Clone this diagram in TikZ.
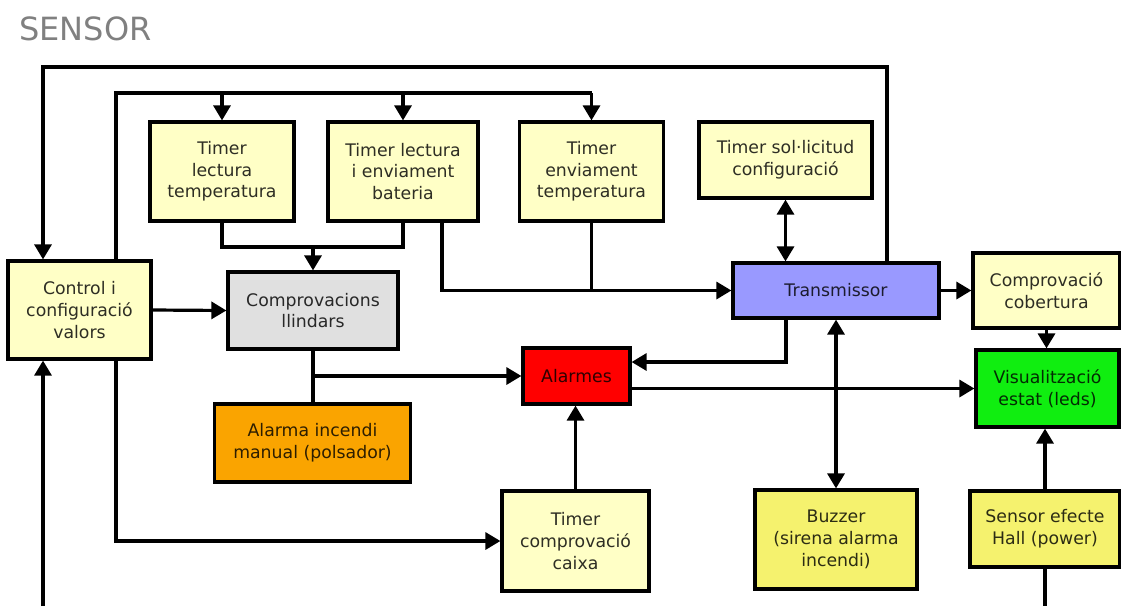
\documentclass[tikz,border=0pt]{standalone}
\usepackage{fontspec}
\setmainfont{DejaVu Sans}
\usetikzlibrary{arrows.meta}

\definecolor{paleyel}{HTML}{FFFFC6}
\definecolor{brightyel}{HTML}{F5F26E}
\definecolor{lightgrey}{HTML}{E0E0E0}
\definecolor{orangebox}{HTML}{FAA400}
\definecolor{redbox}{HTML}{FF0000}
\definecolor{bluebox}{HTML}{9999FF}
\definecolor{greenbox}{HTML}{10EE10}
\definecolor{titlegrey}{HTML}{808080}

\tikzset{
  block/.style={draw=black, line width=3.2pt, align=center, inner sep=0pt,
    font=\fontsize{17.3}{21.7}\selectfont, fill=#1, text=#1!18!black},
  tip/.style={Triangle[length=15pt,width=17pt]},
  arr/.style={line width=3.2pt, -{Triangle[length=15pt,width=17pt]}},
  darr/.style={line width=3.2pt, {Triangle[length=15pt,width=17pt]}-{Triangle[length=15pt,width=17pt]}},
  wire/.style={line width=3.2pt},
}

\begin{document}
\begin{tikzpicture}[x=1pt, y=-1pt]
\useasboundingbox (0,0) rectangle (1121,606);

% title
\node[anchor=base west, inner sep=0pt, text=titlegrey, font=\fontsize{32}{36}\selectfont] (title) at (19,40) {SENSOR};

% blocks
\node[block=paleyel, minimum width=144, minimum height=99] (tlt) at (222,171.5) {Timer\\lectura\\temperatura};
\node[block=paleyel, minimum width=150, minimum height=99] (tlb) at (403,171.5) {Timer lectura\\i enviament\\bateria};
\node[block=paleyel, minimum width=144, minimum height=99] (tet) at (591.5,171.5) {Timer\\enviament\\temperatura};
\node[block=paleyel, minimum width=173, minimum height=76] (tsc) at (785.5,160) {Timer sol·licitud\\configuració};
\node[block=bluebox, minimum width=206, minimum height=55] (trans) at (836,290.5) {Transmissor};
\node[block=paleyel, minimum width=147, minimum height=75] (cob) at (1046.5,290.5) {Comprovació\\cobertura};
\node[block=greenbox, minimum width=143, minimum height=77] (vis) at (1047.5,388.5) {Visualització\\estat (leds)};
\node[block=brightyel, minimum width=150, minimum height=76] (hall) at (1045,529) {Sensor efecte\\Hall (power)};
\node[block=brightyel, minimum width=162, minimum height=99] (buzz) at (836,539.5) {Buzzer\\(sirena alarma\\incendi)};
\node[block=paleyel, minimum width=147, minimum height=100] (caixa) at (575.5,541) {Timer\\comprovació\\caixa};
\node[block=redbox, minimum width=107, minimum height=56] (alarm) at (576.5,376) {Alarmes};
\node[block=paleyel, minimum width=143, minimum height=98] (ctrl) at (79.5,310) {Control i\\configuració\\valors};
\node[block=lightgrey, minimum width=170, minimum height=77] (llin) at (313,310.5) {Comprovacions\\llindars};
\node[block=orangebox, minimum width=196, minimum height=78] (manual) at (312.5,443) {Alarma incendi\\manual (polsador)};

% routing points
\coordinate (o1) at (887,67);
\coordinate (o2) at (43,67);
\coordinate (i1) at (116,93);
\coordinate (i2) at (592,93);
\coordinate (j1) at (313,247);
\coordinate (k) at (442,290.5);
\coordinate (m) at (786,362);
\coordinate (bot) at (0,606);

% outer feedback loop: Transmissor -> Control
\draw[arr] (trans.north -| o1) -- (o1) -- (o2) -- (ctrl.north -| o2);

% inner loop: Control -> timers
\draw[wire] (ctrl.north -| i1) -- (i1) -- (i2);
\draw[arr] (tlt.north |- i1) -- (tlt.north);
\draw[arr] (tlb.north |- i1) -- (tlb.north);
\draw[arr] (tet.north |- i1) -- (tet.north);

% timers -> threshold checks
\draw[wire] (tlt.south) |- (j1) -| (tlb.south);
\draw[arr] (j1) -- (llin.north);

% timers -> transmitter
\draw[arr] (tlb.south -| k) -- (k) -- (trans.west);
\draw[wire] (tet.south) -- (tet.south |- k);

% control -> threshold checks
\draw[arr] (ctrl.east) -- (llin.west);

% threshold checks / manual alarm -> alarms
\draw[wire] (llin.south) -- (llin.south |- manual.north);
\draw[arr] (llin.south |- alarm.west) -- (alarm.west);

% transmitter -> alarms
\draw[arr] (trans.south -| m) -- (m) -- (alarm.east |- m);

% alarms -> status leds
\draw[arr] (alarm.east |- vis.west) -- (vis.west);

% transmitter <-> buzzer, config timer
\draw[darr] (trans.south -| buzz.north) -- (buzz.north);
\draw[darr] (tsc.south) -- (tsc.south |- trans.north);

% transmitter -> coverage -> leds
\draw[arr] (trans.east) -- (cob.west);
\draw[arr] (cob.south) -- (cob.south |- vis.north);

% hall sensor
\draw[arr] (hall.north) -- (hall.north |- vis.south);
\draw[wire] (hall.south) -- (hall.south |- bot);

% lower left links
\draw[arr] (bot -| o2) -- (ctrl.south -| o2);
\draw[arr] (ctrl.south -| i1) |- (caixa.west);
\draw[arr] (caixa.north) -- (caixa.north |- alarm.south);
\end{tikzpicture}
\end{document}
